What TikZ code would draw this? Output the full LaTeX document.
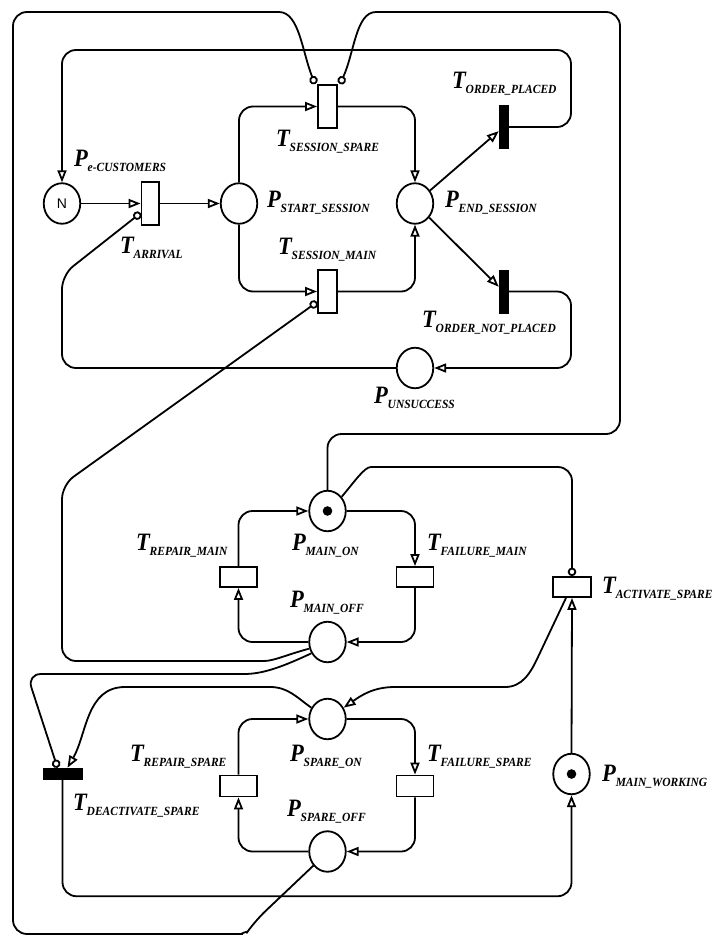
\documentclass[tikz,border=0pt]{standalone}
\usepackage{fontspec}
\setmainfont{Liberation Serif}
\newfontfamily\sansN{Liberation Sans}
\usetikzlibrary{arrows.meta,shapes.geometric,calc}
\newcommand{\pnlab}[2]{\scalebox{0.9}[1]{\fontsize{25}{25}\selectfont\bfseries\itshape #1}\raisebox{-5.5pt}{\scalebox{0.92}[1]{\fontsize{12.5}{13}\selectfont\bfseries\itshape #2}}}
\tikzset{
  plc/.style={ellipse, draw, line width=1.8pt, minimum width=36.5pt, minimum height=40.5pt, inner sep=0pt, fill=white},
  trn/.style={rectangle, draw, line width=1.8pt, fill=white, inner sep=0pt},
  blk/.style={rectangle, fill=black, draw=black, line width=0.5pt, inner sep=0pt},
  lab/.style={anchor=base west, inner sep=0pt, outer sep=0pt},
  parc/.style={line width=1.8pt, -{Triangle[open, length=12pt, width=9pt, fill=white]}},
  pinh/.style={line width=1.8pt, -{Circle[open, length=8.5pt, width=8.5pt, fill=white]}},
  rc/.style={rounded corners=14pt},
  tok/.style={fill=black}
}
\begin{document}
\begin{tikzpicture}[x=1pt,y=-1pt]
\useasboundingbox (0,0) rectangle (716,937);
% places
\node[plc] (pe) at (62,203.5) {\sansN\fontsize{14}{14}\selectfont N};
\node[plc] (pss) at (239,203.5) {};
\node[plc] (pes) at (415,203.5) {};
\node[plc] (pun) at (415,368) {};
\node[plc] (pmon) at (327.5,511) {};
\node[plc] (pmoff) at (327.5,642) {};
\node[plc] (pson) at (327.5,719) {};
\node[plc] (psoff) at (327.5,851.5) {};
\node[plc] (pmw) at (571.5,774) {};
\fill[tok] (pmon.center) circle (4.8pt);
\fill[tok] (pmw.center) circle (4.8pt);
% transitions
\node[trn, minimum width=17.5pt, minimum height=43pt] (tarr) at (150.25,203.5) {};
\node[trn, minimum width=19pt, minimum height=43pt] (tss) at (327.5,106.5) {};
\node[trn, minimum width=19pt, minimum height=43pt] (tsm) at (327.5,291.5) {};
\node[blk, minimum width=9pt, minimum height=43pt] (top) at (503.5,127) {};
\node[blk, minimum width=9pt, minimum height=43pt] (tonp) at (503.5,291.5) {};
\node[trn, minimum width=37pt, minimum height=20pt] (trm) at (238.5,577) {};
\node[trn, minimum width=37pt, minimum height=20pt] (tfm) at (415,577) {};
\node[trn, minimum width=38pt, minimum height=20pt] (tas) at (572,587) {};
\node[trn, minimum width=37pt, minimum height=21pt] (trs) at (238.5,786) {};
\node[trn, minimum width=37pt, minimum height=21pt] (tfs) at (415,786) {};
\node[blk, minimum width=39pt, minimum height=11pt] (tds) at (62.5,773.5) {};
% labels
\node[lab] (lpe) at (74,166) {\pnlab{P}{e-CUSTOMERS}};
\node[lab] (ltarr) at (120,253) {\pnlab{T}{ARRIVAL}};
\node[lab] (lpss) at (267,207) {\pnlab{P}{START\_SESSION}};
\node[lab] (lpes) at (445,207) {\pnlab{P}{END\_SESSION}};
\node[lab] (ltss) at (276,146) {\pnlab{T}{SESSION\_SPARE}};
\node[lab] (ltsm) at (278,254) {\pnlab{T}{SESSION\_MAIN}};
\node[lab] (ltop) at (452,88) {\pnlab{T}{ORDER\_PLACED}};
\node[lab] (ltonp) at (422,327) {\pnlab{T}{ORDER\_NOT\_PLACED}};
\node[lab] (lpun) at (374,403) {\pnlab{P}{UNSUCCESS}};
\node[lab] (ltrm) at (136,550) {\pnlab{T}{REPAIR\_MAIN}};
\node[lab] (lpmon) at (292,550) {\pnlab{P}{MAIN\_ON}};
\node[lab] (ltfm) at (427,550) {\pnlab{T}{FAILURE\_MAIN}};
\node[lab] (ltas) at (602,593) {\pnlab{T}{ACTIVATE\_SPARE}};
\node[lab] (lpmoff) at (290,607) {\pnlab{P}{MAIN\_OFF}};
\node[lab] (ltrs) at (130,761) {\pnlab{T}{REPAIR\_SPARE}};
\node[lab] (lpson) at (290,761) {\pnlab{P}{SPARE\_ON}};
\node[lab] (ltfs) at (427,761) {\pnlab{T}{FAILURE\_SPARE}};
\node[lab] (lpmw) at (602,781) {\pnlab{P}{MAIN\_WORKING}};
\node[lab] (ltds) at (73,810) {\pnlab{T}{DEACTIVATE\_SPARE}};
\node[lab] (lpsoff) at (287,816) {\pnlab{P}{SPARE\_OFF}};
% session subnet
\draw[parc] (pe.east) -- (tarr.west);
\draw[parc] (tarr.east) -- (pss.west);
\draw[parc, rc] (pss.north) |- (tss.west);
\draw[parc, rc] (tss.east) -| (pes.north);
\draw[parc, rc] (pss.south) |- (tsm.west);
\draw[parc, rc] (tsm.east) -| (pes.south);
\draw[parc] (pes) -- (top);
\draw[parc] (pes) -- (tonp);
\draw[parc, rc] (top.east) -| (571,50) -| (pe.north);
\draw[parc, rc] (tonp.east) -| (571,368) -- (pun.east);
\draw[pinh, rc] (pun.west) -| (62,275) -- ($(tarr.west)+(0,9.5)$);
% inhibitors into the session subnet
\draw[pinh, rc] (pmoff.200) to[out=195,in=0] (250,661) -- (62,661) -- (62,485) -- ($(tsm.west)+(0,10.5)$);
\draw[pinh, rc] (pmon.north) -- (327.5,434) -- (620,434) -- (620,12) -- (390,12) to[out=180,in=65] ($(tss.north east)+(2,0)$);
\draw[pinh, rc] (psoff.225) -- (255,921) to[out=235,in=0] (228,934) -- (13,934) -- (13,12) -- (265,12) to[out=0,in=112] ($(tss.north west)+(-2,0)$);
% main server
\draw[parc, rc] (trm.north) |- (pmon.west);
\draw[parc, rc] (pmon.east) -| (tfm.north);
\draw[parc, rc] (tfm.south) |- (pmoff.east);
\draw[parc, rc] (pmoff.west) -| (trm.south);
% spare server
\draw[parc, rc] (trs.north) |- (pson.west);
\draw[parc, rc] (pson.east) -| (tfs.north);
\draw[parc, rc] (tfs.south) |- (psoff.east);
\draw[parc, rc] (psoff.west) -| (trs.south);
% activation / deactivation
\draw[pinh, rc] (pmon.45) to[out=50,in=180] (385,467) -- (572,467) -- (tas.north);
\draw[parc] (pmw.north) -- (tas.south);
\draw[parc] ($(tas.south)+(-6,0)$) -- (538,657) to[out=245,in=0] (505,687) -- (395,687) to[out=180,in=35] (pson.35);
\draw[pinh, rc] (pmoff.215) to[out=205,in=0] (230,674) -- (27,674) -- ($(tds.north)+(-5,0)$);
\draw[parc] (pson.145) to[out=145,in=0] (270,687) -- (125,687) to[out=180,in=60] ($(tds.north)+(5,0)$);
\draw[parc, rc] (tds.south) -- ++(0,117) -| (pmw.south);
\end{tikzpicture}
\end{document}
